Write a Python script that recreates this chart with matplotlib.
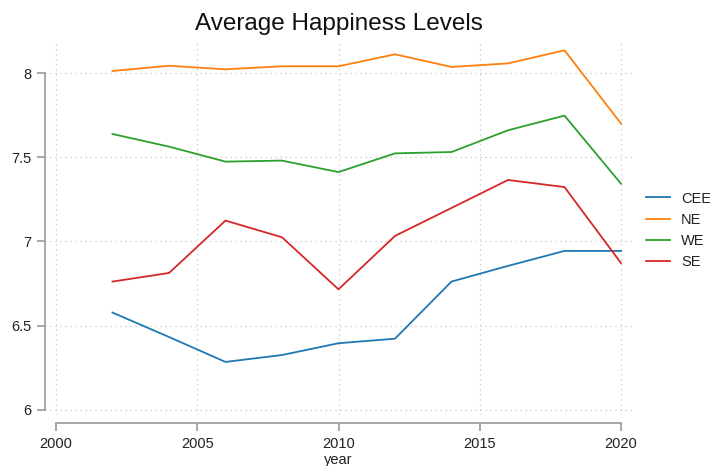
import matplotlib
matplotlib.use("Agg")
import matplotlib.pyplot as plt

years = [2002, 2004, 2006, 2008, 2010, 2012, 2014, 2016, 2018, 2020]
cee = [6.578, 6.433, 6.285, 6.326, 6.396, 6.423, 6.762, 6.855, 6.944, 6.944]
ne = [8.012, 8.043, 8.022, 8.040, 8.040, 8.111, 8.036, 8.057, 8.135, 7.700]
we = [7.638, 7.563, 7.474, 7.480, 7.412, 7.523, 7.531, 7.660, 7.747, 7.343]
se = [6.762, 6.813, 7.124, 7.025, 6.716, 7.033, 7.199, 7.365, 7.323, 6.872]
series = [("CEE", cee), ("NE", ne), ("WE", we), ("SE", se)]
colors = ["#1f77b4", "#ff7f0e", "#2ca02c", "#d62728"]
xticks = [2000, 2005, 2010, 2015, 2020]
yticks = [6, 6.5, 7, 7.5, 8]
yticklabels = ["6", "6.5", "7", "7.5", "8"]

plt.rcParams['font.family'] = ['Liberation Sans', 'DejaVu Sans']

W, H = 710, 466
fig = plt.figure(figsize=(W / 100, H / 100), dpi=100)
ax = fig.add_axes([45 / W, 1 - 415 / H, (632 - 45) / W, (415 - 41) / H])

for (name, vals), c in zip(series, colors):
    ax.plot(years, vals, color=c, lw=1.3, label=name)

ax.set_xlim(1999.61, 2020.39)
ax.set_ylim(5.97, 8.19)
ax.set_xticks(xticks)
ax.set_yticks(yticks)
ax.set_yticklabels(yticklabels)

for s in ["top", "right"]:
    ax.spines[s].set_visible(False)
ax.spines["left"].set_bounds(6, 8)
ax.spines["bottom"].set_bounds(2000, 2020)
ax.spines["bottom"].set_position(("outward", 6))
for s in ["left", "bottom"]:
    ax.spines[s].set_color("#999999")
    ax.spines[s].set_linewidth(1.2)

ax.tick_params(axis="both", colors="#999999", labelcolor="#222222",
               labelsize=10.5, length=6, width=1.2)
ax.grid(True, color="#c8c8c8", linestyle=(0, (1, 3)), linewidth=0.9)

ax.set_title("Average Happiness Levels", fontsize=17.5, pad=8, color="#111111")
ax.set_xlabel("year", fontsize=10.5, color="#222222", labelpad=2)

leg = fig.legend(*ax.get_legend_handles_labels(), loc="center left",
                 bbox_to_anchor=(646 / W, 1 - 230.5 / H), frameon=False,
                 fontsize=10.5, handlelength=1.65, handletextpad=0.75,
                 labelspacing=0.5, borderaxespad=0, borderpad=0)
for t in leg.get_texts():
    t.set_color("#222222")

fig.savefig("out.png", dpi=100)
